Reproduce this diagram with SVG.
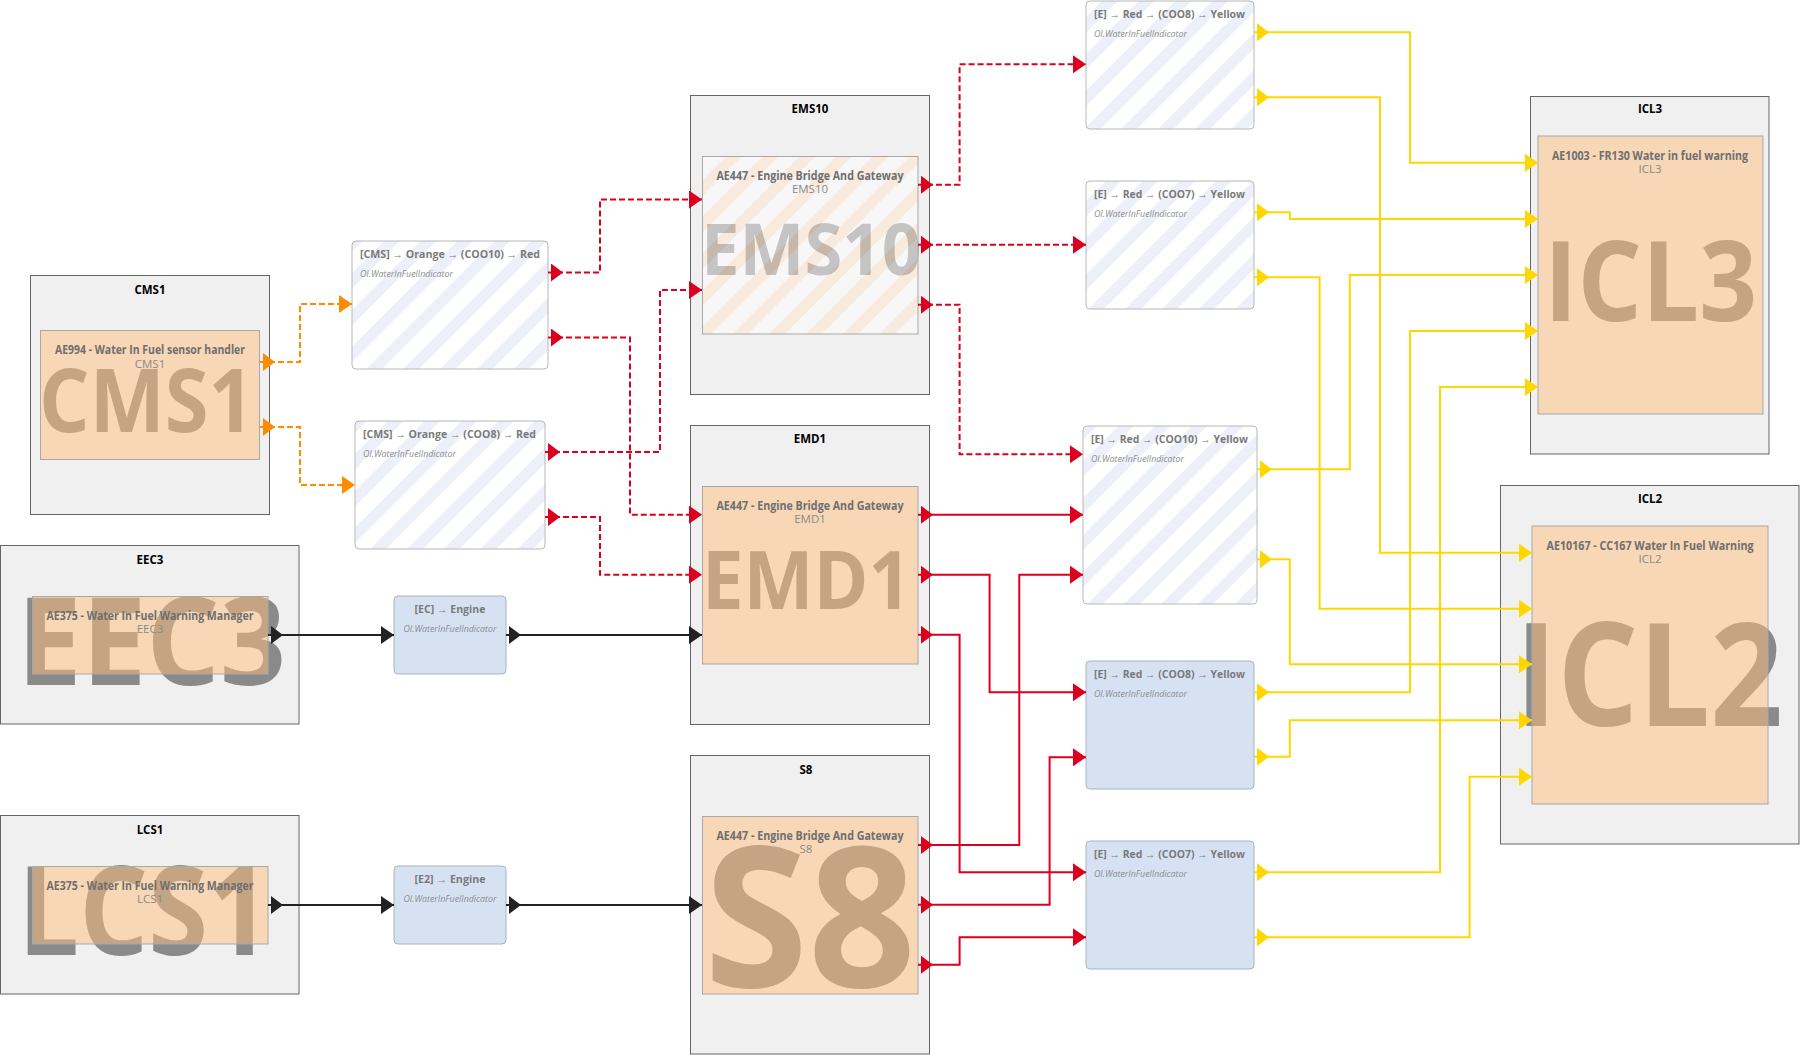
<svg xmlns="http://www.w3.org/2000/svg" width="1800" height="1055" viewBox="0 0 1800 1055">
<style>
text{font-family:"Open Sans","Liberation Sans",sans-serif}
.cont{fill:#f0f0f0;stroke:#666;stroke-width:1}
.inner{fill:#febe7c;fill-opacity:0.5;stroke:#a8a8a8;stroke-width:1}
.innerh{fill:url(#ho);fill-opacity:0.5;stroke:#a8a8a8;stroke-width:1}
.hbox{fill:url(#hl);stroke:#b8b8b8;stroke-width:1}
.bbox{fill:#d6e2f2;stroke:#aab3c0;stroke-width:1}
.ct{font-size:11.5px;font-weight:700;fill:#000;text-anchor:middle}
.it{font-size:11.5px;font-weight:700;fill:#6f6f6f;text-anchor:middle}
.is{font-size:11.5px;font-weight:400;fill:#8a8a8a;text-anchor:middle}
.tt{font-size:11px;font-weight:700;fill:#7a7a7a}
.ts{font-size:9px;font-style:italic;fill:#8c8c8c}
.wm{font-weight:700;fill:#8a8a8a}
.c{fill:none;stroke-width:2}
.or{stroke:#ff8c00;stroke-dasharray:6 3;marker-start:url(#sO);marker-end:url(#eO)}
.rd{stroke:#dc001e;stroke-dasharray:6 3;marker-start:url(#sR);marker-end:url(#eR)}
.rs{stroke:#dc001e;marker-start:url(#sR);marker-end:url(#eR)}
.bk{stroke:#222;marker-start:url(#sB);marker-end:url(#eB)}
.yl{stroke:#ffd700;marker-start:url(#sY);marker-end:url(#eY)}
</style>
<defs>
<pattern id="hl" patternUnits="userSpaceOnUse" width="26" height="26" patternTransform="rotate(45)"><rect width="26" height="26" fill="#ffffff"/><rect width="11" height="26" fill="#edf0f8"/></pattern>
<pattern id="ho" patternUnits="userSpaceOnUse" width="26" height="26" patternTransform="rotate(45)"><rect width="26" height="26" fill="#fefefe"/><rect width="11" height="26" fill="#ffe4c8"/></pattern>
<marker id="sO" viewBox="0 0 16 18" refX="0" refY="9" markerWidth="16" markerHeight="18" markerUnits="userSpaceOnUse" orient="auto"><path d="M3,0 L15,9 L3,18 z" fill="#ff8c00"/></marker>
<marker id="eO" viewBox="0 0 13 18" refX="13" refY="9" markerWidth="13" markerHeight="18" markerUnits="userSpaceOnUse" orient="auto"><path d="M0,0 L13,9 L0,18 z" fill="#ff8c00"/></marker>
<marker id="sR" viewBox="0 0 16 18" refX="0" refY="9" markerWidth="16" markerHeight="18" markerUnits="userSpaceOnUse" orient="auto"><path d="M3,0 L15,9 L3,18 z" fill="#dc001e"/></marker>
<marker id="eR" viewBox="0 0 13 18" refX="13" refY="9" markerWidth="13" markerHeight="18" markerUnits="userSpaceOnUse" orient="auto"><path d="M0,0 L13,9 L0,18 z" fill="#dc001e"/></marker>
<marker id="sB" viewBox="0 0 16 18" refX="0" refY="9" markerWidth="16" markerHeight="18" markerUnits="userSpaceOnUse" orient="auto"><path d="M3,0 L15,9 L3,18 z" fill="#222"/></marker>
<marker id="eB" viewBox="0 0 13 18" refX="13" refY="9" markerWidth="13" markerHeight="18" markerUnits="userSpaceOnUse" orient="auto"><path d="M0,0 L13,9 L0,18 z" fill="#222"/></marker>
<marker id="sY" viewBox="0 0 16 18" refX="0" refY="9" markerWidth="16" markerHeight="18" markerUnits="userSpaceOnUse" orient="auto"><path d="M3,0 L15,9 L3,18 z" fill="#ffd700"/></marker>
<marker id="eY" viewBox="0 0 13 18" refX="13" refY="9" markerWidth="13" markerHeight="18" markerUnits="userSpaceOnUse" orient="auto"><path d="M0,0 L13,9 L0,18 z" fill="#ffd700"/></marker>
</defs>
<rect width="1800" height="1055" fill="#fff"/>

<g id="CMS1">
<rect class="cont" x="30.5" y="275.5" width="239" height="239"/>
<text class="ct" x="150" y="293.5">CMS1</text>
<text class="wm" x="39" y="431.5" font-size="87" textLength="215" lengthAdjust="spacingAndGlyphs">CMS1</text>
<rect class="inner" x="40.5" y="330.5" width="219" height="129"/>
<text class="it" x="150" y="354" textLength="190" lengthAdjust="spacingAndGlyphs">AE994 - Water In Fuel sensor handler</text>
<text class="is" x="150" y="367.5">CMS1</text>
</g>

<g id="EEC3">
<rect class="cont" x="0.5" y="545.5" width="298.5" height="178.5"/>
<text class="ct" x="150" y="563.5">EEC3</text>
<text class="wm" x="17" y="685" font-size="122" textLength="269" lengthAdjust="spacingAndGlyphs">EEC3</text>
<rect class="inner" x="32.5" y="596.5" width="235.5" height="77.5"/>
<text class="it" x="150" y="619.5" textLength="207" lengthAdjust="spacingAndGlyphs">AE375 - Water In Fuel Warning Manager</text>
<text class="is" x="150" y="632.5">EEC3</text>
</g>

<g id="LCS1">
<rect class="cont" x="0.5" y="815.5" width="298.5" height="178.5"/>
<text class="ct" x="150" y="833.5">LCS1</text>
<text class="wm" x="18" y="955" font-size="123" textLength="252" lengthAdjust="spacingAndGlyphs">LCS1</text>
<rect class="inner" x="32.5" y="866.5" width="235.5" height="77.5"/>
<text class="it" x="150" y="889.5" textLength="207" lengthAdjust="spacingAndGlyphs">AE375 - Water In Fuel Warning Manager</text>
<text class="is" x="150" y="902.5">LCS1</text>
</g>

<g id="T_CMS_COO10">
<rect class="hbox" x="352" y="241" width="196" height="128" rx="4"/>
<text class="tt" x="360" y="257.5" textLength="180" lengthAdjust="spacingAndGlyphs">[CMS] → Orange → (COO10) → Red</text>
<text class="ts" x="360" y="276.5" textLength="93" lengthAdjust="spacingAndGlyphs">OI.WaterInFuelIndicator</text>
</g>

<g id="T_CMS_COO8">
<rect class="hbox" x="355" y="421" width="190" height="128" rx="4"/>
<text class="tt" x="363" y="437.5" textLength="173" lengthAdjust="spacingAndGlyphs">[CMS] → Orange → (COO8) → Red</text>
<text class="ts" x="363" y="457" textLength="93" lengthAdjust="spacingAndGlyphs">OI.WaterInFuelIndicator</text>
</g>

<g id="T_EC">
<rect class="bbox" x="394" y="596" width="112" height="78" rx="4"/>
<text class="tt" x="450" y="612.5" text-anchor="middle" textLength="71" lengthAdjust="spacingAndGlyphs">[EC] → Engine</text>
<text class="ts" x="450" y="632" text-anchor="middle" textLength="93" lengthAdjust="spacingAndGlyphs">OI.WaterInFuelIndicator</text>
</g>

<g id="T_E2">
<rect class="bbox" x="394" y="866" width="112" height="78" rx="4"/>
<text class="tt" x="450" y="882.5" text-anchor="middle" textLength="71" lengthAdjust="spacingAndGlyphs">[E2] → Engine</text>
<text class="ts" x="450" y="902" text-anchor="middle" textLength="93" lengthAdjust="spacingAndGlyphs">OI.WaterInFuelIndicator</text>
</g>

<g id="EMS10">
<rect class="cont" x="690.5" y="95.5" width="239" height="299"/>
<text class="ct" x="810" y="113">EMS10</text>
<text class="wm" x="701" y="275" font-size="71" textLength="220" lengthAdjust="spacingAndGlyphs">EMS10</text>
<rect class="innerh" x="702.5" y="156.5" width="215.5" height="177.5"/>
<text class="it" x="810" y="179.5" textLength="187" lengthAdjust="spacingAndGlyphs">AE447 - Engine Bridge And Gateway</text>
<text class="is" x="810" y="192.5">EMS10</text>
</g>

<g id="EMD1">
<rect class="cont" x="690.5" y="425.5" width="239" height="299"/>
<text class="ct" x="810" y="443">EMD1</text>
<text class="wm" x="702" y="609" font-size="81" textLength="209" lengthAdjust="spacingAndGlyphs">EMD1</text>
<rect class="inner" x="702.5" y="486.5" width="215.5" height="177.5"/>
<text class="it" x="810" y="509.5" textLength="187" lengthAdjust="spacingAndGlyphs">AE447 - Engine Bridge And Gateway</text>
<text class="is" x="810" y="522.5">EMD1</text>
</g>

<g id="S8">
<rect class="cont" x="690.5" y="755.5" width="239" height="298.5"/>
<text class="ct" x="806" y="773.5">S8</text>
<text class="wm" x="704" y="987" font-size="196" textLength="212" lengthAdjust="spacingAndGlyphs">S8</text>
<rect class="inner" x="702.5" y="816.5" width="215.5" height="177.5"/>
<text class="it" x="810" y="839.5" textLength="187" lengthAdjust="spacingAndGlyphs">AE447 - Engine Bridge And Gateway</text>
<text class="is" x="806" y="852.5">S8</text>
</g>

<g id="T_E_COO8_a">
<rect class="hbox" x="1086" y="1" width="168" height="128" rx="4"/>
<text class="tt" x="1094" y="17.5" textLength="151" lengthAdjust="spacingAndGlyphs">[E] → Red → (COO8) → Yellow</text>
<text class="ts" x="1094" y="37" textLength="93" lengthAdjust="spacingAndGlyphs">OI.WaterInFuelIndicator</text>
</g>

<g id="T_E_COO7_a">
<rect class="hbox" x="1086" y="181" width="168" height="128" rx="4"/>
<text class="tt" x="1094" y="197.5" textLength="151" lengthAdjust="spacingAndGlyphs">[E] → Red → (COO7) → Yellow</text>
<text class="ts" x="1094" y="217" textLength="93" lengthAdjust="spacingAndGlyphs">OI.WaterInFuelIndicator</text>
</g>

<g id="T_E_COO10">
<rect class="hbox" x="1083" y="426" width="174" height="178" rx="4"/>
<text class="tt" x="1091" y="442.5" textLength="157" lengthAdjust="spacingAndGlyphs">[E] → Red → (COO10) → Yellow</text>
<text class="ts" x="1091" y="462" textLength="93" lengthAdjust="spacingAndGlyphs">OI.WaterInFuelIndicator</text>
</g>

<g id="T_E_COO8_b">
<rect class="bbox" x="1086" y="661" width="168" height="128" rx="4"/>
<text class="tt" x="1094" y="677.5" textLength="151" lengthAdjust="spacingAndGlyphs">[E] → Red → (COO8) → Yellow</text>
<text class="ts" x="1094" y="697" textLength="93" lengthAdjust="spacingAndGlyphs">OI.WaterInFuelIndicator</text>
</g>

<g id="T_E_COO7_b">
<rect class="bbox" x="1086" y="841" width="168" height="128" rx="4"/>
<text class="tt" x="1094" y="857.5" textLength="151" lengthAdjust="spacingAndGlyphs">[E] → Red → (COO7) → Yellow</text>
<text class="ts" x="1094" y="877" textLength="93" lengthAdjust="spacingAndGlyphs">OI.WaterInFuelIndicator</text>
</g>

<g id="ICL3">
<rect class="cont" x="1530.5" y="96.5" width="238.5" height="357.5"/>
<text class="ct" x="1650" y="113">ICL3</text>
<text class="wm" x="1544" y="321" font-size="112" textLength="213" lengthAdjust="spacingAndGlyphs">ICL3</text>
<rect class="inner" x="1538" y="136" width="225" height="278"/>
<text class="it" x="1650" y="159.5" textLength="196" lengthAdjust="spacingAndGlyphs">AE1003 - FR130 Water in fuel warning</text>
<text class="is" x="1650" y="172.5">ICL3</text>
</g>

<g id="ICL2">
<rect class="cont" x="1500.5" y="485.5" width="298.5" height="358.5"/>
<text class="ct" x="1650" y="503">ICL2</text>
<text class="wm" x="1515" y="725.5" font-size="143" textLength="268" lengthAdjust="spacingAndGlyphs">ICL2</text>
<rect class="inner" x="1532" y="526" width="236" height="278"/>
<text class="it" x="1650" y="549.5" textLength="207" lengthAdjust="spacingAndGlyphs">AE10167 - CC167 Water In Fuel Warning</text>
<text class="is" x="1650" y="562.5">ICL2</text>
</g>

<g id="connectors">
<path class="c or" d="M260,362 H300 V304 H352"/>
<path class="c or" d="M260,427 H300 V485 H355"/>
<path class="c rd" d="M548,272.5 H600 V199.5 H702"/>
<path class="c rd" d="M548,337.5 H630 V514.7 H702"/>
<path class="c rd" d="M545,452 H660 V290 H702"/>
<path class="c rd" d="M545,517 H600 V574.7 H702"/>
<path class="c rd" d="M918,184.7 H959.6 V64.3 H1086"/>
<path class="c rd" d="M918,244.7 H1086"/>
<path class="c rd" d="M918,304.7 H959.6 V454.3 H1083"/>
<path class="c rs" d="M918,514.7 H1083"/>
<path class="c rs" d="M918,574.7 H989.6 V692.3 H1086"/>
<path class="c rs" d="M918,634.7 H959.6 V872.3 H1086"/>
<path class="c rs" d="M918,845 H1019.3 V574.7 H1083"/>
<path class="c rs" d="M918,904.7 H1049.6 V757.3 H1086"/>
<path class="c rs" d="M918,964.7 H959.6 V937.3 H1086"/>
<path class="c bk" d="M268,635 H394"/>
<path class="c bk" d="M506,635 H702"/>
<path class="c bk" d="M268,905 H394"/>
<path class="c bk" d="M506,905 H702"/>
<path class="c yl" d="M1254,32.3 H1410 V162.7 H1538"/>
<path class="c yl" d="M1254,97.3 H1380 V552.7 H1532"/>
<path class="c yl" d="M1254,212.3 H1289.8 V219 H1538"/>
<path class="c yl" d="M1254,277.3 H1319.6 V608.7 H1532"/>
<path class="c yl" d="M1257,469.3 H1349.8 V275 H1538"/>
<path class="c yl" d="M1257,559.3 H1289.8 V664.3 H1532"/>
<path class="c yl" d="M1254,692.3 H1410 V331 H1538"/>
<path class="c yl" d="M1254,756.7 H1289.8 V720.3 H1532"/>
<path class="c yl" d="M1254,872.3 H1440 V387 H1538"/>
<path class="c yl" d="M1254,937.3 H1469.6 V776.7 H1532"/>
</g>
</svg>
